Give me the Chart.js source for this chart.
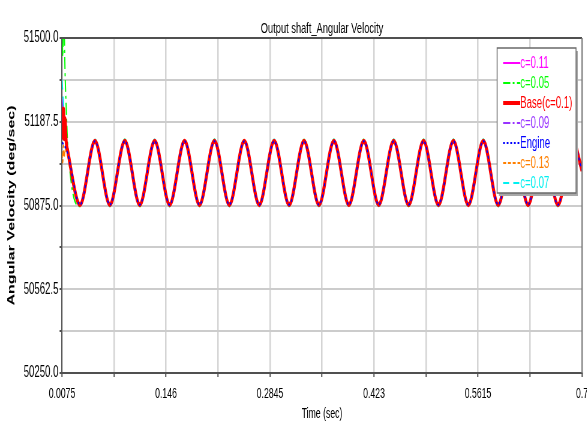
<!DOCTYPE html>
<html>
<head>
<meta charset="utf-8">
<script src="https://cdn.jsdelivr.net/npm/chart.js@4.4.0/dist/chart.umd.min.js"></script>
<style>
  html, body { margin: 0; padding: 0; background: #fff; overflow: hidden; }
  /* the source plot is squeezed sideways, so draw wide and compress */
  #wrap { width: 978px; height: 421px; transform: scaleX(0.6); transform-origin: 0 0; }
</style>
</head>
<body>
<div id="wrap"><canvas id="chart"></canvas></div>
<script>
// start-up transient samples (sec)
const startTimes = [0.0075, 0.0085, 0.0095, 0.0105, 0.0115, 0.013, 0.015];
// troughs / peaks of the steady oscillation, then the last sample
const cycleTimes = [
  0.0315, 0.05139, 0.07128, 0.09117, 0.11106, 0.13095, 0.15084, 0.17073, 0.19062,
  0.21051, 0.2304, 0.25029, 0.27018, 0.29007, 0.30996, 0.32985, 0.34974, 0.36963,
  0.38952, 0.40941, 0.4293, 0.44919, 0.46908, 0.48897, 0.50886, 0.52875, 0.54864,
  0.56853, 0.58842, 0.60831, 0.6282, 0.64809, 0.66798, 0.68787, 0.7
];
const steadyValues = [
  50878, 51115, 50878, 51115, 50878, 51115, 50878, 51115, 50878,
  51115, 50878, 51115, 50878, 51115, 50878, 51115, 50878, 51115,
  50878, 51115, 50878, 51115, 50878, 51115, 50878, 51115, 50878,
  51115, 50878, 51115, 50878, 51115, 50878, 51115, 51005
];
const steadyWide = [
  50872, 51121, 50872, 51121, 50872, 51121, 50872, 51121, 50872,
  51121, 50872, 51121, 50872, 51121, 50872, 51121, 50872, 51121,
  50872, 51121, 50872, 51121, 50872, 51121, 50872, 51121, 50872,
  51121, 50872, 51121, 50872, 51121, 50872, 51121, 51008
];

const seriesLabels = ['c=0.11', 'c=0.05', 'Base(c=0.1)', 'c=0.09', 'Engine', 'c=0.13', 'c=0.07'];
const seriesColors = ['#ff00ff', '#00ff00', '#ff0000', '#9933ff', '#0000ff', '#ff8000', '#00f0f0'];

const c011Start = [51210, 51180, 51160, 51150, 51140, 51120, 51085];
const c005Start = [51650, 51430, 51620, 51540, 51380, 51250, 51110];
const baseStart = [51240, 51130, 51235, 51125, 51200, 51115, 51080];
const c009Start = [51275, 51240, 51210, 51185, 51160, 51130, 51090];
const engineStart = [51110, 51108, 51104, 51100, 51095, 51085, 51070];
const c013Start = [51070, 51035, 51100, 51055, 51090, 51075, 51060];
const c007Start = [51345, 51300, 51255, 51215, 51180, 51140, 51095];

const xTickValues = [0.0075, 0.07675, 0.146, 0.21525, 0.2845, 0.35375, 0.423, 0.49225, 0.5615, 0.63075, 0.7];
const xTickLabels = ['0.0075', '', '0.146', '', '0.2845', '', '0.423', '', '0.5615', '', '0.7'];
const yTickValues = [50250, 50406.25, 50562.5, 50718.75, 50875, 51031.25, 51187.5, 51343.75, 51500];
const yTickLabels = ['50250.0', '', '50562.5', '', '50875.0', '', '51187.5', '', '51500.0'];

const allTimes = startTimes.concat(cycleTimes);
const toPoints = (vals) => allTimes.map((t, i) => ({ x: t, y: vals[i] }));

const FONT = 'Liberation Sans, Arial, sans-serif';
Chart.defaults.font.family = FONT;
Chart.defaults.color = '#000';

const datasets = [
  { vals: c011Start.concat(steadyValues), width: 2, dash: [], order: 6 },
  { vals: c005Start.concat(steadyWide), width: 2, dash: [12, 4, 3, 4], order: 5 },
  { vals: baseStart.concat(steadyValues), width: 5, dash: [], order: 1 },
  { vals: c009Start.concat(steadyValues), width: 2, dash: [12, 4, 3, 4], order: 3 },
  { vals: engineStart.concat(steadyValues), width: 2, dash: [3, 3], order: 0 },
  { vals: c013Start.concat(steadyValues), width: 2, dash: [5, 3], order: 2 },
  { vals: c007Start.concat(steadyWide), width: 2, dash: [10, 7], order: 4 },
].map((d, i) => ({
  label: seriesLabels[i],
  data: toPoints(d.vals),
  borderColor: seriesColors[i],
  borderWidth: d.width,
  borderDash: d.dash,
  order: d.order,
  pointRadius: 0,
  fill: false,
  cubicInterpolationMode: 'monotone',
}));

// boxed legend sitting inside the plot, top right
const boxLegend = {
  id: 'boxLegend',
  afterDraw(chart) {
    const { ctx, chartArea } = chart;
    const w = 131.5, h = 145;
    const right = chartArea.right - 10;
    const top = chartArea.top + 10;
    const left = right - w;
    ctx.save();
    ctx.fillStyle = '#a8a8a8';
    ctx.fillRect(left + 3, top + 3, w, h);
    ctx.fillStyle = '#fff';
    ctx.fillRect(left, top, w, h);
    ctx.strokeStyle = '#6a6a6a';
    ctx.lineWidth = 1.5;
    ctx.strokeRect(left, top, w, h);
    ctx.font = '16px ' + FONT;
    ctx.textBaseline = 'middle';
    chart.data.datasets.forEach((ds, i) => {
      const y = top + 15 + i * 20;
      ctx.beginPath();
      ctx.setLineDash(ds.borderDash);
      ctx.strokeStyle = ds.borderColor;
      ctx.lineWidth = ds.borderWidth === 5 ? 4 : 2;
      ctx.moveTo(left + 10, y);
      ctx.lineTo(left + 38.5, y);
      ctx.stroke();
      ctx.setLineDash([]);
      ctx.fillStyle = ds.borderColor;
      ctx.fillText(ds.label, left + 38.5, y + 1);
    });
    ctx.restore();
  }
};

// top and right edges of the plot frame
const plotFrame = {
  id: 'plotFrame',
  afterDatasetsDraw(chart) {
    const { ctx, chartArea: a } = chart;
    ctx.save();
    ctx.strokeStyle = '#505050';
    ctx.lineWidth = 2;
    ctx.beginPath();
    ctx.moveTo(a.left, a.top);
    ctx.lineTo(a.right, a.top);
    ctx.stroke();
    ctx.strokeStyle = '#7a7a7a';
    ctx.beginPath();
    ctx.moveTo(a.right, a.top);
    ctx.lineTo(a.right, a.bottom);
    ctx.stroke();
    ctx.restore();
  }
};

new Chart(document.getElementById('chart'), {
  type: 'line',
  data: { datasets },
  plugins: [plotFrame, boxLegend],
  options: {
    responsive: true,
    maintainAspectRatio: false,
    animation: false,
    layout: { padding: { left: 0, right: 8, top: 0, bottom: 0 } },
    plugins: {
      legend: { display: false },
      tooltip: { enabled: false },
      title: {
        display: true,
        text: 'Output shaft_Angular Velocity',
        fullSize: false,
        color: '#000',
        font: { size: 15.5, weight: 'normal', lineHeight: 1.2 },
        padding: { top: 19, bottom: 0.4 },
      },
    },
    scales: {
      x: {
        type: 'linear',
        min: 0.0075,
        max: 0.7,
        afterBuildTicks: (s) => { s.ticks = xTickValues.map((v) => ({ value: v })); },
        afterFit: (s) => { s.height = 48; s.paddingLeft = 0; s.paddingRight = 0; },
        ticks: {
          callback: (v, i) => xTickLabels[i],
          font: { size: 14.5 },
          color: '#000',
          padding: 8,
          maxRotation: 0,
          autoSkip: false,
        },
        grid: { color: '#d4d4d4', lineWidth: 2.5, tickLength: 4, tickColor: '#505050', tickWidth: 2 },
        border: { color: '#505050', width: 2 },
        title: {
          display: true,
          text: 'Time (sec)',
          color: '#000',
          font: { size: 14.5, lineHeight: 1 },
          padding: { top: 0, bottom: 0 },
        },
      },
      y: {
        min: 50250,
        max: 51500,
        afterBuildTicks: (s) => { s.ticks = yTickValues.map((v) => ({ value: v })); },
        afterFit: (s) => { s.width = 103.3; s.paddingTop = 0; s.paddingBottom = 0; },
        ticks: {
          callback: (v, i) => yTickLabels[i],
          font: { size: 16 },
          color: '#000',
          padding: 2,
          autoSkip: false,
        },
        grid: { color: '#cccccc', lineWidth: 2, tickLength: 4, tickColor: '#505050', tickWidth: 2 },
        border: { color: '#505050', width: 2 },
        title: {
          display: true,
          text: 'Angular Velocity (deg/sec)',
          color: '#000',
          font: { size: 16, weight: 'bold', lineHeight: 1.2 },
          padding: { top: 10.4, bottom: 0 },
        },
      },
    },
  },
});
</script>
</body>
</html>
